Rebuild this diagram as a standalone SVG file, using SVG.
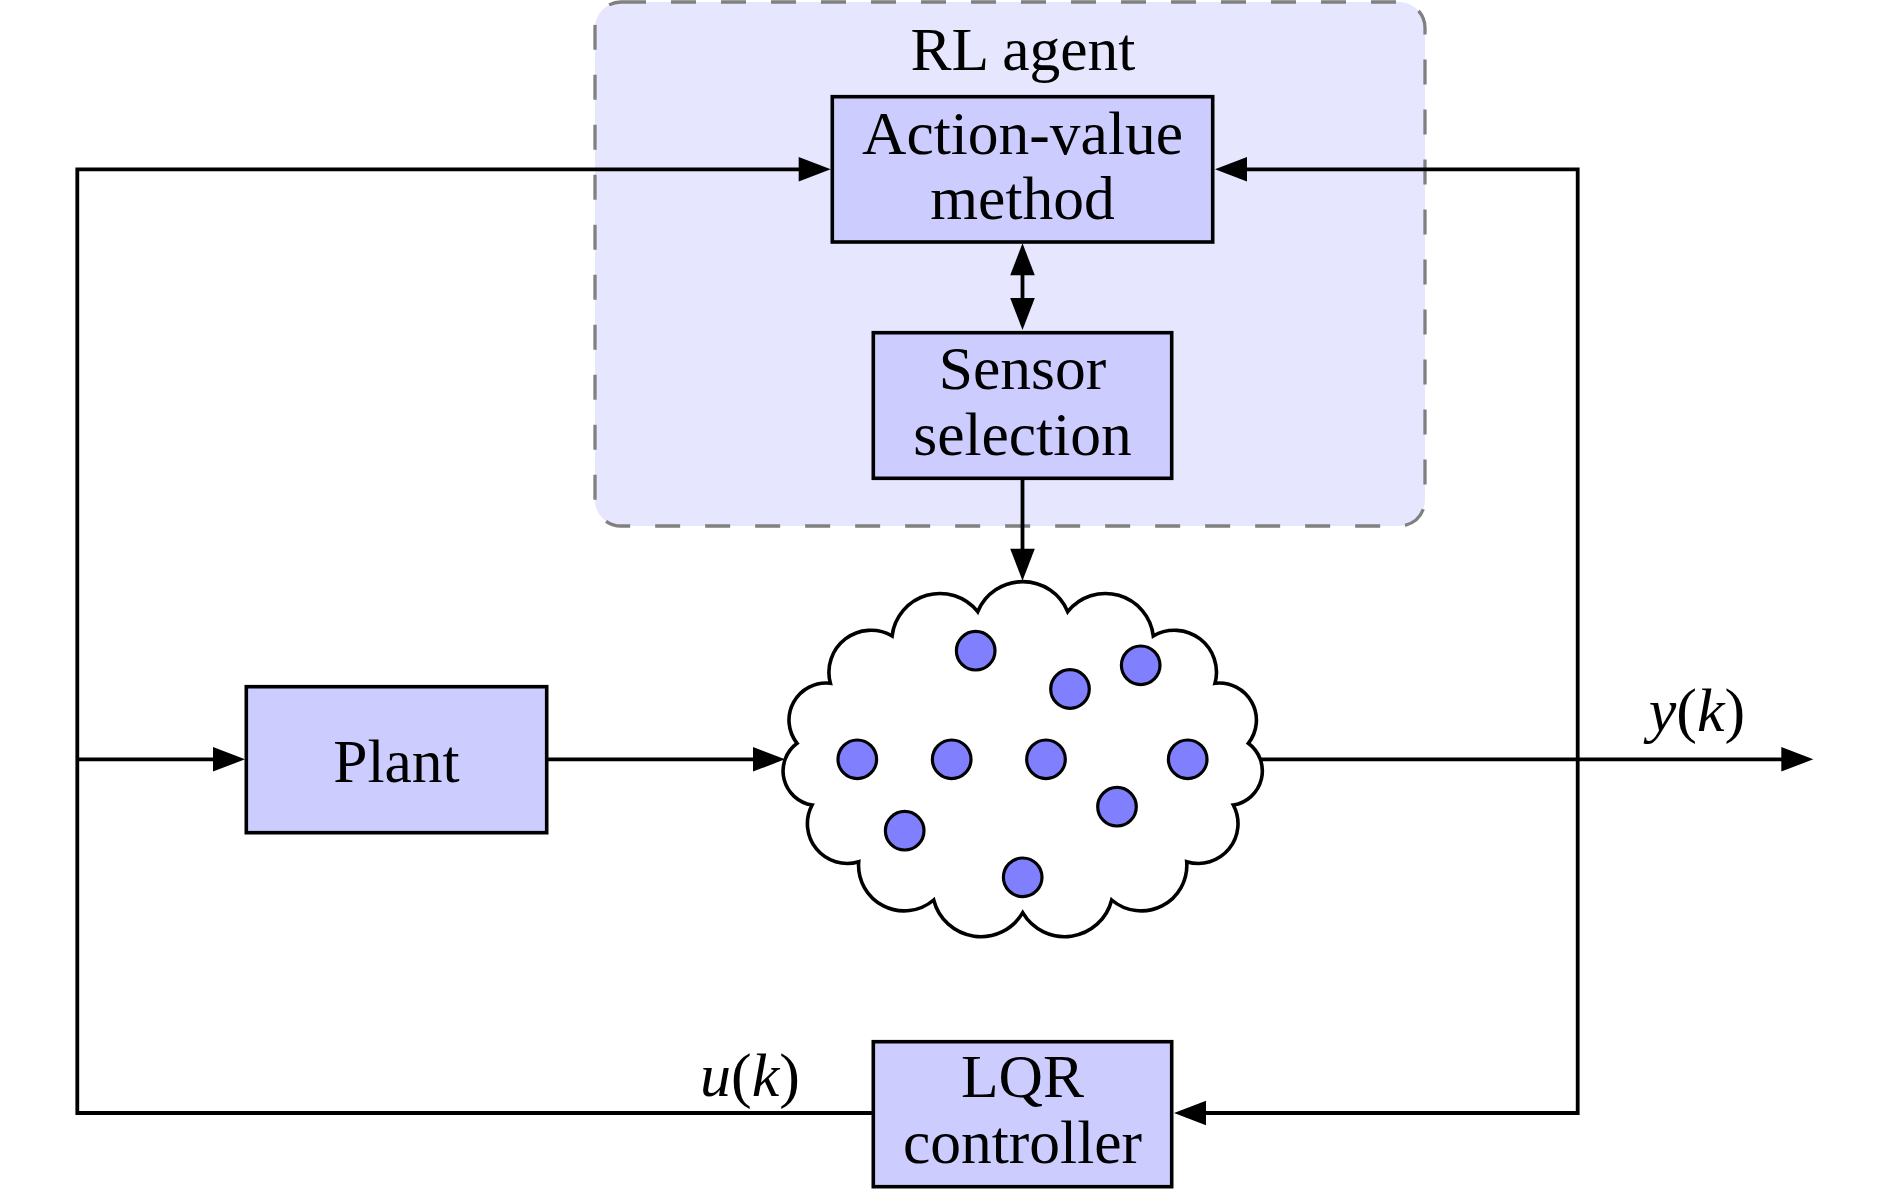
<svg xmlns="http://www.w3.org/2000/svg" width="1890" height="1189" viewBox="0 0 1890 1189">
<style>
  .box { fill: #ccccff; stroke: #000; stroke-width: 3.6; }
  .lbl { font-family: "Liberation Serif", "Times New Roman", serif; font-size: 61.5px; fill: #000; text-anchor: middle; }
  .math { font-family: "Liberation Serif", "Times New Roman", serif; font-size: 62px; fill: #000; text-anchor: middle; }
  .it { font-style: italic; }
  .wire { fill: none; stroke: #000; stroke-width: 3.8; }
  .dot { fill: #8080ff; stroke: #000; stroke-width: 3.2; }
</style>
<defs>
  <marker id="arr" markerUnits="userSpaceOnUse" viewBox="-30 -15 40 30" markerWidth="40" markerHeight="30" refX="0" refY="0" orient="auto-start-reverse" overflow="visible">
    <path d="M8,0 L-24,-12.3 L-24,12.3 Z" fill="#000"/>
  </marker>
</defs>
<rect width="1890" height="1189" fill="#fff"/>

<g id="rl-agent">
  <rect x="595" y="2" width="830" height="524" rx="26" ry="26" fill="#e6e6ff" stroke="#808080" stroke-width="3.3" stroke-dasharray="25 25"/>
  <text class="lbl" x="1023" y="70">RL agent</text>
</g>

<g id="connectors">
  <path class="wire" d="M873,1113 H77.3 V169.3 H822.7" marker-end="url(#arr)"/>
  <path class="wire" d="M1182,1113 H1577.7 V169.3 H1223" marker-start="url(#arr)" marker-end="url(#arr)"/>
  <path class="wire" d="M77.3,759.3 H237" marker-end="url(#arr)"/>
  <path class="wire" d="M546.7,759.3 H777" marker-end="url(#arr)"/>
  <path class="wire" d="M1260,759.3 H1805.3" marker-end="url(#arr)"/>
  <path class="wire" d="M1022.5,251.3 V322" marker-start="url(#arr)" marker-end="url(#arr)"/>
  <path class="wire" d="M1022.5,478.3 V572.7" marker-end="url(#arr)"/>
</g>

<g id="action-value">
  <rect class="box" x="832.3" y="96.7" width="380.4" height="145.3"/>
  <text class="lbl" x="1022.5" y="153.5">Action-value</text>
  <text class="lbl" x="1022.5" y="218.5">method</text>
</g>

<g id="sensor-selection">
  <rect class="box" x="873.3" y="332.7" width="298.4" height="145.6"/>
  <text class="lbl" x="1022.5" y="389">Sensor</text>
  <text class="lbl" x="1022.5" y="454.5">selection</text>
</g>

<g id="plant">
  <rect class="box" x="246.3" y="686.7" width="300.4" height="146"/>
  <text class="lbl" x="396.5" y="782">Plant</text>
</g>

<g id="lqr-controller">
  <rect class="box" x="873.3" y="1041.7" width="298.4" height="145"/>
  <text class="lbl" x="1022.5" y="1097.3">LQR</text>
  <text class="lbl" x="1022.5" y="1163.3">controller</text>
</g>

<g id="sensor-network">
  <path d="M977.7,611.7 A48.7,48.7 0 0 1 1067.7,611.7 A48.2,48.2 0 0 1 1153.3,636 A42,42 0 0 1 1215,683.3 A37.1,37.1 0 0 1 1248.3,743.3 A34.4,34.4 0 0 1 1233.3,805 A39.7,39.7 0 0 1 1186.7,861.7 A45.6,45.6 0 0 1 1111.7,900 A48.6,48.6 0 0 1 1022.7,912.7 A48.6,48.6 0 0 1 933.7,900 A45.6,45.6 0 0 1 858.7,861.7 A39.7,39.7 0 0 1 812.1,805 A34.4,34.4 0 0 1 797.1,743.3 A37.1,37.1 0 0 1 830.4,683.3 A42,42 0 0 1 892.1,636 A48.2,48.2 0 0 1 977.7,611.7 Z" fill="#fff" stroke="#000" stroke-width="3.6" stroke-linejoin="miter"/>
  <circle class="dot" cx="975.7" cy="650.7" r="19.3"/>
  <circle class="dot" cx="1070" cy="689" r="19.3"/>
  <circle class="dot" cx="1140.7" cy="665.3" r="19.3"/>
  <circle class="dot" cx="857.3" cy="759.3" r="19.3"/>
  <circle class="dot" cx="951.7" cy="759.3" r="19.3"/>
  <circle class="dot" cx="1046" cy="759.3" r="19.3"/>
  <circle class="dot" cx="1187.7" cy="759.3" r="19.3"/>
  <circle class="dot" cx="1117" cy="806.7" r="19.3"/>
  <circle class="dot" cx="904.7" cy="830.7" r="19.3"/>
  <circle class="dot" cx="1022.7" cy="877.3" r="19.3"/>
</g>

<g id="labels">
  <text class="math" x="1697" y="731"><tspan class="it">y</tspan>(<tspan class="it">k</tspan>)</text>
  <text class="math" x="750" y="1096"><tspan class="it">u</tspan>(<tspan class="it">k</tspan>)</text>
</g>
</svg>
